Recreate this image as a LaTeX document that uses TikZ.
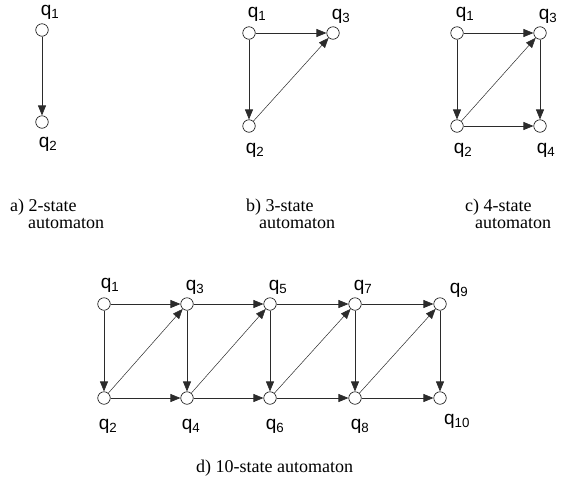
\documentclass[tikz,border=0pt]{standalone}
\usepackage{fontspec}
\setmainfont{Liberation Serif}
\newfontfamily\labfont{Liberation Sans}
\usepackage{tikz}
\usetikzlibrary{arrows.meta,calc}
\definecolor{edgeGray}{HTML}{2B2B2B}

\begin{document}
\begin{tikzpicture}[x=1pt, y=-1pt,
  state/.style={circle, draw=black, line width=0.6pt, fill=white, minimum size=12.5pt, inner sep=0pt},
  qlab/.style={font=\labfont\fontsize{19}{19}\selectfont, inner sep=0pt},
  caption/.style={font=\fontsize{18}{18}\selectfont, inner sep=0pt, anchor=base west},
  arrow/.style={-{Triangle[length=10pt, width=8pt]}, line width=0.7pt, draw=edgeGray},
  diag/.style={arrow, line width=0.5pt}
]
\useasboundingbox (0,0) rectangle (569,483);

% a) 2-state automaton
\node[state] (a1) at (42,30) {};
\node[state] (a2) at (42,122) {};
\node[qlab] at ($(a1)+(8,-18)$) {q\textsubscript{1}};
\node[qlab] at ($(a2)+(6,22)$) {q\textsubscript{2}};
\draw[arrow] (a1) -- (a2);
\node[caption] at (10,211) {a) 2-state};
\node[caption] at (28,228) {automaton};

% b) 3-state automaton
\node[state] (b1) at (249,33) {};
\node[state] (b3) at (333,33) {};
\node[state] (b2) at (249,126) {};
\node[qlab] at ($(b1)+(8,-19)$) {q\textsubscript{1}};
\node[qlab] at ($(b3)+(8,-17)$) {q\textsubscript{3}};
\node[qlab] at ($(b2)+(6,24)$) {q\textsubscript{2}};
\draw[arrow] (b1) -- (b3);
\draw[arrow] (b1) -- (b2);
\draw[diag] (b2) -- (b3);
\node[caption] at (246,211) {b) 3-state};
\node[caption] at (259,228) {automaton};

% c) 4-state automaton
\node[state] (c1) at (457,33) {};
\node[state] (c3) at (540,33) {};
\node[state] (c2) at (457,126) {};
\node[state] (c4) at (540,126) {};
\node[qlab] at ($(c1)+(8,-19)$) {q\textsubscript{1}};
\node[qlab] at ($(c3)+(8,-17)$) {q\textsubscript{3}};
\node[qlab] at ($(c2)+(6,24)$) {q\textsubscript{2}};
\node[qlab] at ($(c4)+(6,24)$) {q\textsubscript{4}};
\draw[arrow] (c1) -- (c3);
\draw[arrow] (c1) -- (c2);
\draw[diag] (c2) -- (c3);
\draw[arrow] (c3) -- (c4);
\draw[arrow] (c2) -- (c4);
\node[caption] at (465,211) {c) 4-state};
\node[caption] at (475,228) {automaton};

% d) 10-state automaton
\node[state] (d1) at (104,304) {};
\node[state] (d3) at (187,304) {};
\node[state] (d5) at (270,304) {};
\node[state] (d7) at (355,304) {};
\node[state] (d9) at (440,304) {};
\node[state] (d2) at (104,398) {};
\node[state] (d4) at (187,398) {};
\node[state] (d6) at (270,398) {};
\node[state] (d8) at (355,398) {};
\node[state] (d10) at (440,398) {};
\node[qlab] at ($(d1)+(6,-19)$) {q\textsubscript{1}};
\node[qlab] at ($(d3)+(8,-17)$) {q\textsubscript{3}};
\node[qlab] at ($(d5)+(8,-17)$) {q\textsubscript{5}};
\node[qlab] at ($(d7)+(8,-17)$) {q\textsubscript{7}};
\node[qlab] at ($(d9)+(19,-14)$) {q\textsubscript{9}};
\node[qlab] at ($(d2)+(4,28)$) {q\textsubscript{2}};
\node[qlab] at ($(d4)+(4,28)$) {q\textsubscript{4}};
\node[qlab] at ($(d6)+(5,28)$) {q\textsubscript{6}};
\node[qlab] at ($(d8)+(5,28)$) {q\textsubscript{8}};
\node[qlab] at ($(d10)+(17,23)$) {q\textsubscript{10}};
\draw[arrow] (d1) -- (d3);
\draw[arrow] (d3) -- (d5);
\draw[arrow] (d5) -- (d7);
\draw[arrow] (d7) -- (d9);
\draw[arrow] (d2) -- (d4);
\draw[arrow] (d4) -- (d6);
\draw[arrow] (d6) -- (d8);
\draw[arrow] (d8) -- (d10);
\draw[arrow] (d1) -- (d2);
\draw[arrow] (d3) -- (d4);
\draw[arrow] (d5) -- (d6);
\draw[arrow] (d7) -- (d8);
\draw[arrow] (d9) -- (d10);
\draw[diag] (d2) -- (d3);
\draw[diag] (d4) -- (d5);
\draw[diag] (d6) -- (d7);
\draw[diag] (d8) -- (d9);
\node[caption] at (196,472) {d) 10-state automaton};
\end{tikzpicture}
\end{document}
